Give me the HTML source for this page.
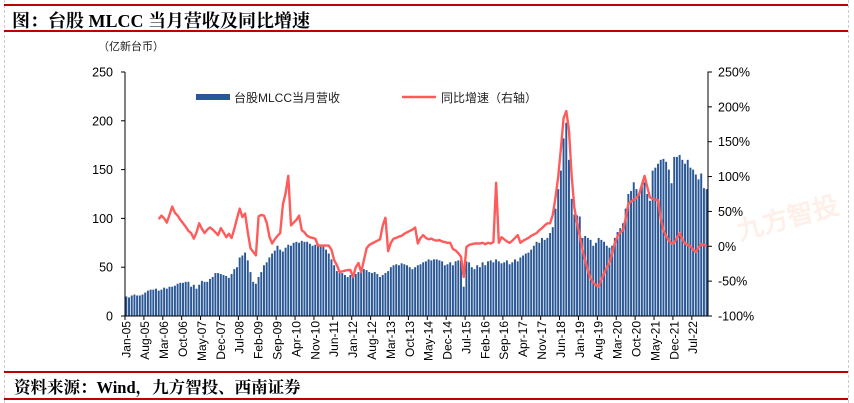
<!DOCTYPE html>
<html><head><meta charset="utf-8">
<style>
html,body{margin:0;padding:0;background:#fff;}
body{width:854px;height:403px;position:relative;overflow:hidden;font-family:"Liberation Sans","Noto Sans CJK SC",sans-serif;}
.hdr{position:absolute;left:12px;top:7px;font-family:"Liberation Serif","Noto Serif CJK SC",serif;font-weight:bold;font-size:18px;color:#000;}
.ftr{position:absolute;left:14px;top:374px;font-family:"Liberation Serif","Noto Serif CJK SC",serif;font-weight:bold;font-size:16.5px;color:#000;}
.rl{position:absolute;left:4px;width:844px;height:2px;background:#C00000;}
</style></head><body>
<div style="position:absolute;left:4px;top:0;width:0;height:403px;border-left:1px dashed #ccc;"></div>
<div style="position:absolute;left:848px;top:0;width:0;height:403px;border-left:1px dashed #ccc;"></div>
<div class="rl" style="top:4px"></div>
<div class="hdr">图：台股 MLCC 当月营收及同比增速</div>
<div class="rl" style="top:30px"></div>
<div class="rl" style="top:371px"></div>
<div class="ftr">资料来源：Wind，九方智投、西南证券</div>
<div class="rl" style="top:398px"></div>
<svg id="chart" width="854" height="403" style="position:absolute;left:0;top:0;"></svg>
<script>
const revenue2005=[20,19,21,22,21,21,22,24,26,27,27,28];
const revenue2006=[26,27,29,28,30,30,31,33,34,34,35,35];
const revenue2007=[30,32,28,32,36,35,35,38,40,44,44,43];
const revenue2008=[42,41,39,43,48,50,60,62,65,57,45,35];
const revenue2009=[33,40,45,52,55,60,64,67,72,68,66,70];
const revenue2010=[73,72,75,76,75,77,76,76,74,72,73,74];
const revenue2011=[72,71,68,64,58,52,46,44,44,42,40,42];
const revenue2012=[40,43,45,46,48,47,45,44,45,43,40,42];
const revenue2013=[44,46,50,52,53,52,54,53,52,50,48,50];
const revenue2014=[52,53,55,56,58,57,58,58,57,56,52,53];
const revenue2015=[55,52,56,57,57,30,56,55,50,48,52,50];
const revenue2016=[55,52,56,57,55,58,56,54,55,57,53,55];
const revenue2017=[58,56,60,62,64,65,68,72,76,75,80,78];
const revenue2018=[80,85,91,110,130,149,182,198,160,120,104,103];
const revenue2019=[102,80,82,80,78,72,75,80,78,76,72,70];
const revenue2020=[72,80,86,90,95,110,125,128,137,130,126,135];
const revenue2021=[137,125,118,149,152,156,160,161,158,150,136,163];
const revenue2022=[163,165,160,156,160,152,150,145,140,146,131,130];
const revenue=[].concat(revenue2005,revenue2006,revenue2007,revenue2008,revenue2009,revenue2010,revenue2011,revenue2012,revenue2013,revenue2014,revenue2015,revenue2016,revenue2017,revenue2018,revenue2019,revenue2020,revenue2021,revenue2022);
// YoY growth (%) starting Jan-06
const yoy2006=[39,44,40,34,45,57,48,44,38,33,28,22];
const yoy2007=[19,11,20,33,25,19,24,27,24,20,16,26];
const yoy2008=[20,13,18,12,25,40,54,42,47,20,-3,-8];
const yoy2009=[-13,43,45,44,34,14,4,10,15,19,60,76];
const yoy2010=[101,30,34,38,44,23,20,15,13,12,11,1];
const yoy2011=[1,1,1,1,-5,-20,-27,-37,-36,-35,-34,-34];
const yoy2012=[-44,-30,-24,-37,-20,-3,2,4,6,8,10,30];
const yoy2013=[41,-7,5,11,12,14,15,18,20,22,24,27];
const yoy2014=[4,12,16,12,10,11,9,8,9,7,6,5];
const yoy2015=[5,-4,-6,-10,-15,-44,-1,2,3,4,4,4];
const yoy2016=[5,3,5,4,6,91,5,13,10,7,5,8];
const yoy2017=[12,16,5,8,10,12,15,17,19,23,26,30];
const yoy2018=[33,33,45,70,100,140,184,194,166,100,55,33];
const yoy2019=[15,-5,-20,-35,-46,-52,-56,-58,-48,-39,-30,-24];
const yoy2020=[-10,5,14,20,23,40,61,64,67,69,75,88];
const yoy2021=[101,85,70,68,67,66,40,23,15,8,4,5];
const yoy2022=[12,19,10,4,2,0,-5,-8,-2,3,2,0];
const yoy=[].concat(yoy2006,yoy2007,yoy2008,yoy2009,yoy2010,yoy2011,yoy2012,yoy2013,yoy2014,yoy2015,yoy2016,yoy2017,yoy2018,yoy2019,yoy2020,yoy2021,yoy2022);
const yoyStart=12;
const monthNames=["Jan","Feb","Mar","Apr","May","Jun","Jul","Aug","Sep","Oct","Nov","Dec"];
const leftTicks=[0,50,100,150,200,250];
const rightTicks=[-100,-50,0,50,100,150,200,250];

const NS="http://www.w3.org/2000/svg";
const svg=document.getElementById('chart');
const X0=125,X1=708,YB=316,YT=72;
const n=revenue.length;
const bw=(X1-X0)/n;
function xC(i){return X0+(i+0.5)*bw;}
function yL(v){return YB-(v-0)/(250-0)*(YB-YT);}
function yR(v){return YB-(v+100)/350*(YB-YT);}
function mk(tag,attrs){const e=document.createElementNS(NS,tag);for(const k in attrs)e.setAttribute(k,attrs[k]);svg.appendChild(e);return e;}
function txt(x,y,s,attrs){const e=mk('text',Object.assign({x:x,y:y,'font-size':12,fill:'#000','font-family':'Liberation Sans, sans-serif'},attrs||{}));e.textContent=s;return e;}

// watermark
const wm=txt(740,240,'九方智投',{'font-size':26,fill:'#FEF0E8',transform:'rotate(-15 740 240)','font-weight':'bold'});



// bars
for(let i=0;i<n;i++){
  const y=yL(revenue[i]);
  const r=mk('rect',{x:(X0+i*bw+0.35).toFixed(2),y:y.toFixed(2),width:(bw*0.72).toFixed(2),height:(YB-y).toFixed(2),fill:'#2A5796'});
  
  
}
// line
let d='';
for(let j=0;j<yoy.length;j++){d+=(j?'L':'M')+xC(j+yoyStart).toFixed(2)+','+yR(yoy[j]).toFixed(2);}
const ln=mk('path',{d:d,fill:'none',stroke:'#FF5B5B','stroke-width':2.4,'stroke-linejoin':'round'});



// axes
const la=mk('path',{d:`M${X0},${YT}H${X0-3}M${X0},${YT}V${YB}H${X1}V${YT}H${X1+4}`,fill:'none',stroke:'#000','stroke-width':1});


for(const v of leftTicks){
  const y=yL(v);
  mk('line',{x1:X0-4,x2:X0,y1:y,y2:y,stroke:'#000'});
  const t=txt(X0-12,y+4.5,String(v),{'text-anchor':'end','font-size':12.5});
  
  
}
for(const v of rightTicks){
  const y=yR(v);
  mk('line',{x1:X1,x2:X1+4,y1:y,y2:y,stroke:'#000'});
  const t=txt(X1+10,y+4.5,v+'%',{'font-size':12.5});
  
  
}
for(let i=0;i<n;i+=7){
  const x=X0+i*bw;
  mk('line',{x1:x,x2:x,y1:YB,y2:YB+4,stroke:'#000'});
  const lab=monthNames[i%12]+'-'+String(5+Math.floor(i/12)).padStart(2,'0');
  const t=txt(xC(i)+4,YB+5,lab,{'text-anchor':'end','font-size':12,transform:`rotate(-90 ${xC(i)+4} ${YB+5})`});
  
  
}
const unit=txt(98,50,'（亿新台币）',{'font-size':11,'font-family':'Liberation Sans, Noto Sans CJK SC, sans-serif',fill:'#222'});



// legend
const lg1=mk('rect',{x:196,y:94,width:34,height:6,fill:'#2A5796'});


const lt1=txt(234,102,'台股MLCC当月营收',{'font-size':12,'font-family':'Liberation Sans, Noto Sans CJK SC, sans-serif',fill:'#222'});


const lg2=mk('line',{x1:402,x2:436,y1:97,y2:97,stroke:'#FF5B5B','stroke-width':2.4});


const lt2=txt(441,102,'同比增速（右轴）',{'font-size':12,'font-family':'Liberation Sans, Noto Sans CJK SC, sans-serif',fill:'#222'});


</script>
</body></html>
